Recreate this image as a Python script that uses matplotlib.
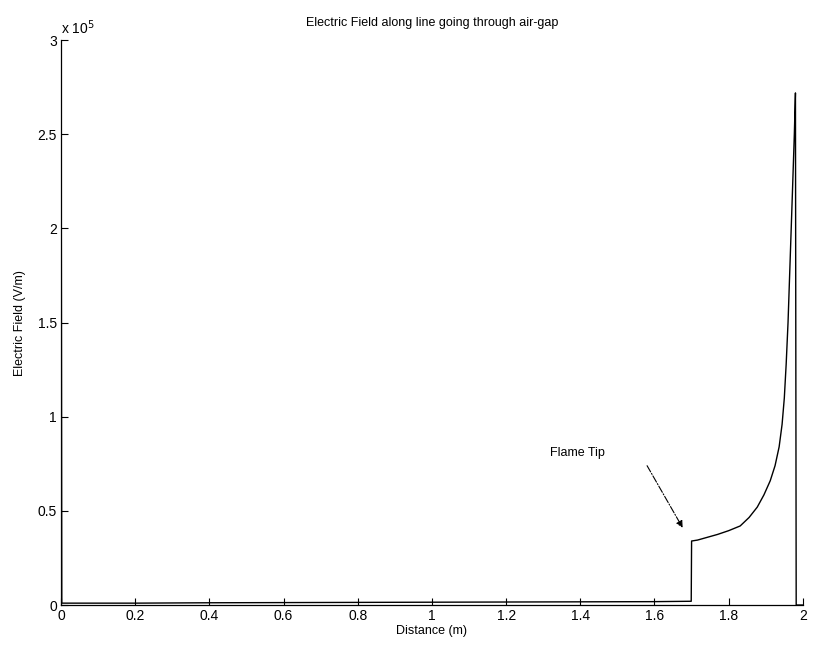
import numpy as np
import matplotlib
matplotlib.use('Agg')
import matplotlib.pyplot as plt

# distance along the line (m) and electric field (x 1e5 V/m)
distance = [0.0, 0.002, 0.2, 0.4, 0.6, 0.8, 1.0, 1.2, 1.4, 1.6, 1.699,
            1.700, 1.716, 1.743, 1.77, 1.80, 1.831, 1.855, 1.877, 1.895,
            1.912, 1.925, 1.936, 1.944, 1.950, 1.955, 1.960, 1.966, 1.972,
            1.977, 1.980, 1.982, 2.0]
e_field = [3.2, 0.010, 0.010, 0.012, 0.013, 0.014, 0.015, 0.016, 0.017, 0.018, 0.020,
           0.34, 0.345, 0.36, 0.375, 0.395, 0.42, 0.465, 0.52, 0.585,
           0.66, 0.74, 0.84, 0.96, 1.10, 1.28, 1.50, 1.85, 2.20,
           2.50, 2.72, 0.0, 0.0]

x_ticks = [0, 0.2, 0.4, 0.6, 0.8, 1, 1.2, 1.4, 1.6, 1.8, 2]
x_tick_labels = ['0', '0.2', '0.4', '0.6', '0.8', '1', '1.2', '1.4', '1.6', '1.8', '2']
y_ticks = [0, 0.5, 1, 1.5, 2, 2.5, 3]
y_tick_labels = ['0', '0.5', '1', '1.5', '2', '2.5', '3']

# annotation: label position, arrow tail, arrow head
flame_tip_text = (1.392, 0.81)
flame_tip_tail = (1.58, 0.74)
flame_tip_head = (1.676, 0.41)

plt.rcParams['font.family'] = ['Liberation Sans', 'DejaVu Sans']

fig = plt.figure(figsize=(8.17, 6.56), dpi=100)
ax = fig.add_axes([0.0747, 0.0777, 0.908, 0.861])

ax.plot(distance, e_field, color='black', linewidth=1.0)

ax.set_xlim(0, 2)
ax.set_ylim(0, 3)
ax.set_xticks(x_ticks)
ax.set_xticklabels(x_tick_labels)
ax.set_yticks(y_ticks)
ax.set_yticklabels(y_tick_labels)
ax.tick_params(direction='in', length=5, width=0.8, labelsize=10, colors='black', pad=3)
ax.spines['top'].set_visible(False)
ax.spines['right'].set_visible(False)
for s in ['left', 'bottom']:
    ax.spines[s].set_linewidth(0.9)

ax.set_title('Electric Field along line going through air-gap', fontsize=9, pad=10)
ax.set_xlabel('Distance (m)', fontsize=9, labelpad=1)
ax.set_ylabel('Electric Field (V/m)', fontsize=9, labelpad=8)
ax.text(0.0, 1.005, r'x 10$^5$', transform=ax.transAxes, fontsize=10,
        ha='left', va='bottom')

ax.annotate('', xy=flame_tip_head, xytext=flame_tip_tail,
            arrowprops=dict(arrowstyle='-|>', color='black', linewidth=0.8,
                            linestyle='-.', mutation_scale=10, shrinkA=0, shrinkB=0))
ax.text(flame_tip_text[0], flame_tip_text[1], 'Flame Tip', fontsize=9,
        ha='center', va='center')

fig.savefig('out.png', dpi=100)
